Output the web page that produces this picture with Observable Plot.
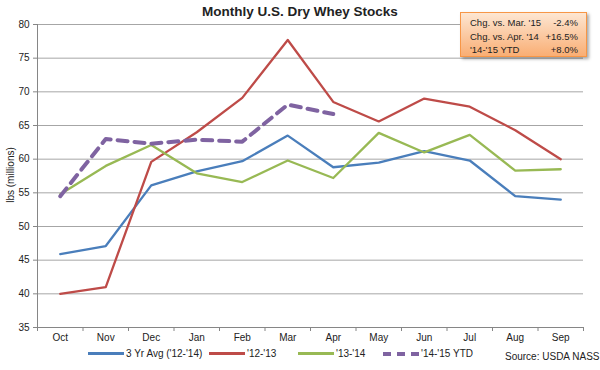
<!DOCTYPE html>
<html>
<head>
<meta charset="utf-8">
<script src="https://cdn.jsdelivr.net/npm/d3@7"></script>
<script src="https://cdn.jsdelivr.net/npm/@observablehq/plot@0.6"></script>
<style>
  html, body { margin: 0; padding: 0; background: #fff; }
  #wrap { position: relative; width: 600px; height: 370px; font-family: "Liberation Sans", Arial, sans-serif; color: #222; }
  #chart { position: absolute; left: 0; top: 0; }
  .title { position: absolute; left: 0; width: 600px; top: 4px; text-align: center; font-weight: bold; font-size: 13.5px; color: #222; }
  .ylabel { position: absolute; left: 10px; top: 175px; transform: translate(-50%, -50%) rotate(-90deg); font-size: 10px; white-space: nowrap; }
  .box { position: absolute; left: 460px; top: 12px; width: 127px; height: 45px; box-sizing: border-box;
         background: linear-gradient(#fde6d2, #f9ae74); border: 1px solid #f79646; box-shadow: 2px 2px 3px rgba(0,0,0,0.35);
         font-size: 9.5px; color: #222; padding: 3px 8px 0 9px; }
  .box .row { display: flex; justify-content: space-between; line-height: 13.5px; }
  .legend { position: absolute; top: 348px; left: 0; width: 600px; height: 14px; font-size: 10px; }
  .legend .item { position: absolute; top: 0; display: flex; align-items: center; white-space: nowrap; }
  .legend .sw { width: 36px; height: 0; margin-right: 2px; }
  .source { position: absolute; left: 505px; top: 351px; font-size: 10px; white-space: nowrap; }
</style>
</head>
<body>
<div id="wrap">
  <div id="chart"></div>
  <div class="title">Monthly U.S. Dry Whey Stocks</div>
  <div class="ylabel">lbs (millions)</div>
  <div class="box" id="box"></div>
  <div class="legend" id="legend"></div>
  <div class="source">Source: USDA NASS</div>
</div>
<script>
const months = ["Oct","Nov","Dec","Jan","Feb","Mar","Apr","May","Jun","Jul","Aug","Sep"];
const seriesNames = ["3 Yr Avg ('12-'14)", "'12-'13", "'13-'14", "'14-'15 YTD"];
const avg3yr = [45.9, 47.1, 56.1, 58.2, 59.7, 63.5, 58.8, 59.5, 61.2, 59.8, 54.5, 54.0];
const y1213  = [40.0, 41.0, 59.6, 64.0, 69.1, 77.7, 68.5, 65.6, 69.0, 67.8, 64.3, 60.0];
const y1314  = [54.8, 59.0, 62.1, 57.9, 56.6, 59.8, 57.2, 63.9, 61.0, 63.6, 58.3, 58.5];
const y1415  = [54.5, 63.0, 62.3, 62.9, 62.6, 68.1, 66.7];
const colors = ["#4a7ebb", "#be4b48", "#98b954", "#7f63a1"];
const boxLabels = ["Chg. vs. Mar. '15", "Chg. vs. Apr. '14", "'14-'15 YTD"];
const boxValues = ["-2.4%", "+16.5%", "+8.0%"];
const yTicks = [35, 40, 45, 50, 55, 60, 65, 70, 75, 80];

const allSeries = [avg3yr, y1213, y1314, y1415];
const data = allSeries.flatMap((vals, s) => vals.map((v, i) => ({series: seriesNames[s], i, v})));

const common = {x: "i", y: "v", z: "series", curve: "linear"};
const chart = Plot.plot({
  width: 600, height: 370,
  marginTop: 24, marginBottom: 43, marginLeft: 37, marginRight: 17,
  style: {fontFamily: "'Liberation Sans', Arial, sans-serif", fontSize: "10px", color: "#222", background: "transparent"},
  x: {type: "linear", domain: [-0.5, 11.5]},
  y: {domain: [35, 80]},
  marks: [
    Plot.gridY(yTicks, {stroke: "#a6a6a6", strokeOpacity: 1, strokeWidth: 1}),
    Plot.ruleX([-0.5], {stroke: "#868686"}),
    Plot.ruleY([35], {stroke: "#868686"}),
    Plot.axisY(yTicks, {tickSize: 4, tickPadding: 4, stroke: "#868686", label: null, fill: "#222"}),
    Plot.axisX(d3.range(13).map(k => k - 0.5), {tickSize: 4, tickFormat: () => "", label: null, stroke: "#868686"}),
    Plot.axisX(d3.range(12), {tickSize: 0, tickPadding: 6, tickFormat: k => months[k], label: null, fill: "#222"}),
    Plot.line(data.filter(d => d.series !== seriesNames[3]), {...common, stroke: d => colors[seriesNames.indexOf(d.series)], strokeWidth: 2.3}),
    Plot.line(data.filter(d => d.series === seriesNames[3]), {...common, stroke: colors[3], strokeWidth: 4, strokeDasharray: "10,7", strokeLinecap: "round"})
  ]
});
document.getElementById("chart").appendChild(chart);

const box = document.getElementById("box");
boxLabels.forEach((l, k) => {
  const r = document.createElement("div");
  r.className = "row";
  r.innerHTML = `<span>${l}</span><span>${boxValues[k]}</span>`;
  box.appendChild(r);
});

const legendX = [88, 209, 298, 383];
const legend = document.getElementById("legend");
seriesNames.forEach((n, k) => {
  const it = document.createElement("div");
  it.className = "item";
  it.style.left = legendX[k] + "px";
  const sw = document.createElement("div");
  sw.className = "sw";
  if (k === 3) sw.style.borderTop = `4px dashed ${colors[k]}`;
  else sw.style.borderTop = `3px solid ${colors[k]}`;
  it.appendChild(sw);
  const t = document.createElement("span");
  t.textContent = n;
  it.appendChild(t);
  legend.appendChild(it);
});
</script>
</body>
</html>
